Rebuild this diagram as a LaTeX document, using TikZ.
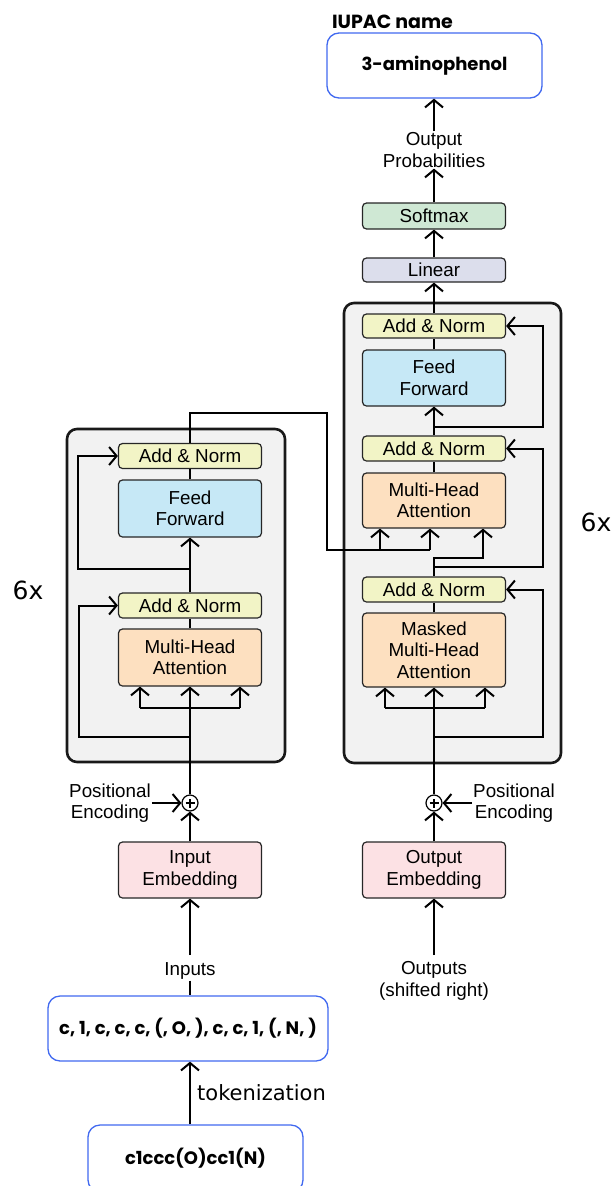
\documentclass[tikz,border=0pt]{standalone}
\usepackage{fontspec}
\setmainfont{Liberation Sans}
\newfontfamily\geofont{Poppins}
\newfontfamily\djvfont{DejaVu Sans}
\usetikzlibrary{arrows.meta,calc}

\definecolor{anfill}{HTML}{F2F4C6}
\definecolor{fffill}{HTML}{C6E8F6}
\definecolor{attfill}{HTML}{FDE0C0}
\definecolor{embfill}{HTML}{FCE1E4}
\definecolor{smfill}{HTML}{CFE8D4}
\definecolor{linfill}{HTML}{DCDEEC}
\definecolor{stackfill}{HTML}{F2F2F2}
\definecolor{ioblue}{HTML}{4169F0}

\begin{document}
\begin{tikzpicture}[x=1pt,y=-1pt,
  txt/.style={font=\fontsize{18.8}{21.5}\selectfont, align=center},
  block/.style={txt, draw=black!85, line width=1.2pt, rounded corners=4pt,
    minimum width=143pt, inner sep=0pt},
  an/.style={block, fill=anfill, minimum height=25pt},
  ffbox/.style={block, fill=fffill, minimum height=57pt},
  att/.style={block, fill=attfill},
  emb/.style={block, fill=embfill, minimum height=56pt},
  stack/.style={draw=black!90, line width=2.6pt, rounded corners=10pt,
    fill=stackfill, inner sep=0pt},
  iobox/.style={draw=ioblue, line width=1.3pt, rounded corners=12pt, fill=white,
    inner sep=0pt, font=\geofont\bfseries\fontsize{18}{20}\selectfont},
  lbl/.style={txt, inner sep=1pt},
  adder/.style={circle, draw=black, line width=1.2pt, minimum size=16pt, inner sep=0pt, fill=white},
  link/.style={line width=2pt},
  arr/.style={link, -{Straight Barb[length=7.5pt,width=18pt]}},
  times/.style={font=\djvfont\fontsize{25}{25}\selectfont, inner sep=0pt}
]
\useasboundingbox (0,0) rectangle (613,1186);

% ---------- encoder stack ----------
\node[stack, minimum width=218pt, minimum height=333pt] (encbox) at (176,595.5) {};
\node[an] (eAN1) at (190,456) {Add \& Norm};
\node[ffbox] (eFF) at (190,508.5) {Feed\\Forward};
\node[an] (eAN2) at (190,605.5) {Add \& Norm};
\node[att, minimum height=57pt] (eMHA) at (190,657.5) {Multi-Head\\Attention};
\node[times] (eN) at (28,590) {6x};

% ---------- decoder stack ----------
\node[stack, minimum width=217pt, minimum height=460pt] (decbox) at (452.5,533) {};
\node[an, minimum height=24pt] (dAN1) at (434,326) {Add \& Norm};
\node[ffbox, minimum height=56pt] (dFF) at (434,378) {Feed\\Forward};
\node[an] (dAN2) at (434,448.5) {Add \& Norm};
\node[att, minimum height=55pt] (dMHA) at (434,500.5) {Multi-Head\\Attention};
\node[an] (dAN3) at (434,589.5) {Add \& Norm};
\node[att, minimum height=74pt] (dMMHA) at (434,650) {Masked\\Multi-Head\\Attention};
\node[times] (dN) at (596,522) {6x};

% ---------- output head ----------
\node[block, fill=linfill, minimum height=24pt] (linear) at (434,270) {Linear};
\node[block, fill=smfill, minimum height=26pt] (softmax) at (434,216) {Softmax};
\node[lbl] (probs) at (434,150) {Output\\Probabilities};
\node[iobox, minimum width=215pt, minimum height=65pt] (iupac) at (434.5,65.5) {3-aminophenol};
\node[font=\geofont\bfseries\fontsize{19}{20}\selectfont, inner sep=0pt] (iupaclbl) at (392.5,22) {IUPAC name};

% ---------- embeddings ----------
\node[emb] (eEmb) at (190,870) {Input\\Embedding};
\node[emb] (dEmb) at (434,870) {Output\\Embedding};
\node[adder] (eAdd) at (190,803) {};
\node[adder] (dAdd) at (434,803) {};
\foreach \a in {eAdd,dAdd}{
  \draw[line width=1.1pt] ([xshift=-4.5pt]\a.center) -- ([xshift=4.5pt]\a.center);
  \draw[line width=1.1pt] ([yshift=-4.5pt]\a.center) -- ([yshift=4.5pt]\a.center);
}
\node[lbl] (ePE) at (110,803) {Positional\\Encoding};
\node[lbl] (dPE) at (514,803) {Positional\\Encoding};

% ---------- inputs ----------
\node[lbl] (inlbl) at (190,971) {Inputs};
\node[lbl] (outlbl) at (434,981) {Outputs\\(shifted right)};
\node[iobox, minimum width=280pt, minimum height=65pt] (tokens) at (188,1028.5)
  {c, 1, c, c, c, (, O, ), c, c, 1, (, N, )};
\node[iobox, minimum width=215pt, minimum height=67pt] (smiles) at (195.5,1158.5) {c1ccc(O)cc1(N)};
\node[font=\djvfont\fontsize{21}{21}\selectfont, anchor=west, inner sep=0pt] (toklbl) at (197,1093) {tokenization};

% ---------- encoder connectors ----------
\coordinate (eSplit) at (190,708);
\coordinate (eQ) at (140,708);
\coordinate (eK) at (240,708);
\coordinate (eRes0) at (190,737);
\coordinate (eRes1) at (190,569);
\draw[arr] (eEmb.north) -- (eAdd.south);
\draw[arr] (ePE.east) -- (eAdd.west);
\draw[link] (eAdd.north) -- (eSplit);
\draw[link] (eQ) -- (eK);
\draw[arr] (eSplit) -- (eMHA.south);
\draw[arr] (eQ) -- (eQ |- eMHA.south);
\draw[arr] (eK) -- (eK |- eMHA.south);
\draw[arr] (eRes0) -- ++(-111,0) |- (eAN2.west);
\draw[link] (eMHA.north) -- (eAN2.south);
\draw[arr] (eAN2.north) -- (eFF.south);
\draw[arr] (eRes1) -- ++(-112,0) |- (eAN1.west);
\draw[link] (eFF.north) -- (eAN1.south);

% ---------- encoder to decoder ----------
\coordinate (crossTop) at (327,413);
\coordinate (dKV1) at (380,550);
\coordinate (dKV2) at (430,550);
\draw[link] (eAN1.north) |- (crossTop) |- (dKV2);
\draw[arr] (dKV1) -- (dKV1 |- dMHA.south);
\draw[arr] (dKV2) -- (dKV2 |- dMHA.south);

% ---------- decoder connectors ----------
\coordinate (dSplit) at (434,708);
\coordinate (dQ1) at (385,708);
\coordinate (dK1) at (485,708);
\coordinate (dRes0) at (434,737);
\coordinate (dQ2) at (483,558);
\coordinate (dRes1) at (434,567);
\coordinate (dRes2) at (434,427);
\draw[arr] (dEmb.north) -- (dAdd.south);
\draw[arr] (dPE.west) -- (dAdd.east);
\draw[link] (dAdd.north) -- (dSplit);
\draw[link] (dQ1) -- (dK1);
\draw[arr] (dSplit) -- (dMMHA.south);
\draw[arr] (dQ1) -- (dQ1 |- dMMHA.south);
\draw[arr] (dK1) -- (dK1 |- dMMHA.south);
\draw[arr] (dRes0) -- ++(109,0) |- (dAN3.east);
\draw[link] (dMMHA.north) -- (dAN3.south);
\draw[arr] (dAN3.north) |- (dQ2) -- (dQ2 |- dMHA.south);
\draw[arr] (dRes1) -- ++(109,0) |- (dAN2.east);
\draw[link] (dMHA.north) -- (dAN2.south);
\draw[arr] (dAN2.north) -- (dFF.south);
\draw[arr] (dRes2) -- ++(109,0) |- (dAN1.east);
\draw[link] (dFF.north) -- (dAN1.south);

% ---------- output head connectors ----------
\draw[arr] (dAN1.north) -- (linear.south);
\draw[arr] (linear.north) -- (softmax.south);
\draw[arr] (softmax.north) -- (probs.south);
\draw[arr] (probs.north) -- (probs.north |- iupac.south);

% ---------- input connectors ----------
\coordinate (eIn) at (190,955);
\coordinate (dIn) at (434,955);
\draw[arr] (eIn) -- (eEmb.south);
\draw[arr] (dIn) -- (dEmb.south);
\draw[link] (inlbl.south) -- (inlbl.south |- tokens.north);
\draw[arr] (eEmb.center |- smiles.north) -- (eEmb.center |- tokens.south);
\end{tikzpicture}
\end{document}
